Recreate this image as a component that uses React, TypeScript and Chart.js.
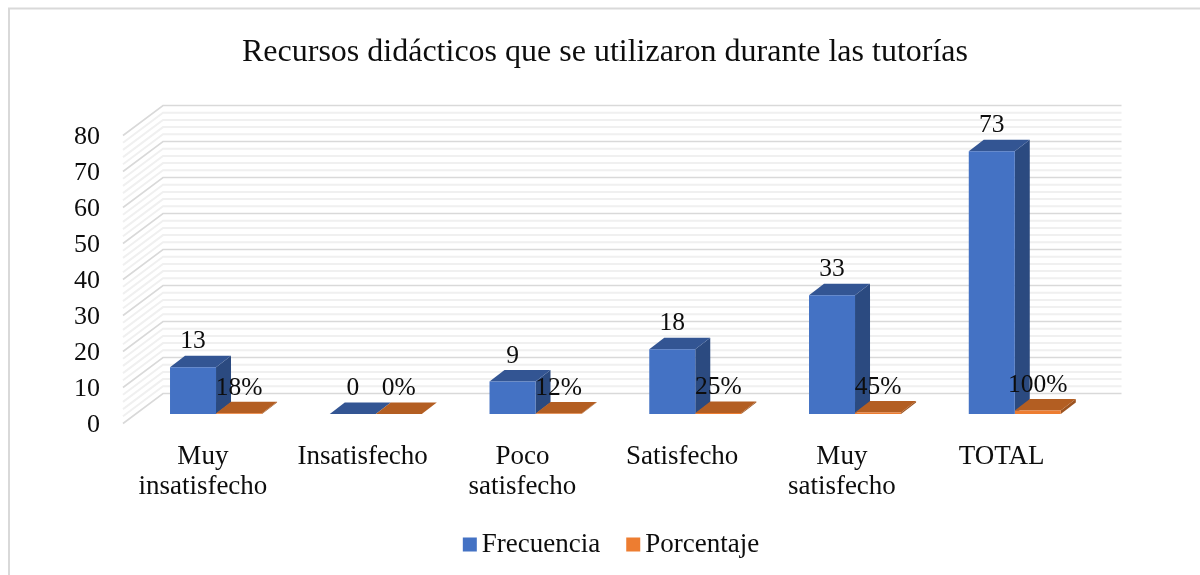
import React, { useEffect, useRef } from "react";
import { Chart, registerables } from "chart.js";

Chart.register(...registerables);

const TITLE = "Recursos didácticos que se utilizaron durante las tutorías";
const categories = [["Muy", "insatisfecho"], "Insatisfecho", ["Poco", "satisfecho"], "Satisfecho", ["Muy", "satisfecho"], "TOTAL"];
const frecuencia = [13, 0, 9, 18, 33, 73];
const porcentaje = [0.18, 0, 0.12, 0.25, 0.45, 1];
const porcentajeLabels = ["18%", "0%", "12%", "25%", "45%", "100%"];

const SERIF = "'Liberation Serif', serif";
const FLOOR_X = 13.15;
const FLOOR_Y = -9.5;
const BAR_DX = 15;
const BAR_DY = -11.5;
const WALL_DX = 40;
const WALL_DY = -30;
const LEGEND_SHIFT = 6;

const faces = [
  { top: "#335593", side: "#2b4a80" },
  { top: "#b35e22", side: "#9c5320" },
];

const poly = (ctx: CanvasRenderingContext2D, pts: number[][], fill: string) => {
  ctx.beginPath();
  pts.forEach((p, i) => (i ? ctx.lineTo(p[0], p[1]) : ctx.moveTo(p[0], p[1])));
  ctx.closePath();
  ctx.fillStyle = fill;
  ctx.fill();
};

const threeD = {
  id: "threeD",
  afterLayout(chart: any) {
    chart.legend.left += LEGEND_SHIFT;
    chart.legend.right += LEGEND_SHIFT;
  },
  beforeDatasetsDraw(chart: any) {
    const { ctx, chartArea: a } = chart;
    const y = chart.scales.y;
    const right = a.right + WALL_DX;
    ctx.save();
    for (let v = 0; v <= 80; v += 2) {
      if (v === 0) continue;
      if (v % 10 === 0) continue;
      const py = y.getPixelForValue(v);
      ctx.strokeStyle = "#f0f0f0";
      ctx.lineWidth = 2;
      ctx.beginPath();
      ctx.moveTo(a.left, py);
      ctx.lineTo(a.left + WALL_DX, py + WALL_DY);
      ctx.lineTo(right, py + WALL_DY);
      ctx.stroke();
    }
    for (let v = 0; v <= 80; v += 10) {
      const py = y.getPixelForValue(v);
      ctx.strokeStyle = "#d9d9d9";
      ctx.lineWidth = 1.6;
      ctx.beginPath();
      ctx.moveTo(a.left, py);
      ctx.lineTo(a.left + WALL_DX, py + WALL_DY);
      ctx.lineTo(right, py + WALL_DY);
      ctx.stroke();
    }
    chart.data.datasets.forEach((_: any, d: number) => {
      chart.getDatasetMeta(d).data.forEach((b: any) => {
        const l = b.x - b.width / 2 + FLOOR_X;
        const r = b.x + b.width / 2 + FLOOR_X;
        const t = b.y + FLOOR_Y;
        const base = b.base + FLOOR_Y;
        if (base - t > 0) {
          poly(ctx, [[r, t], [r + BAR_DX, t + BAR_DY], [r + BAR_DX, base + BAR_DY], [r, base]], faces[d].side);
        }
        poly(ctx, [[l, t], [l + BAR_DX, t + BAR_DY], [r + BAR_DX, t + BAR_DY], [r, t]], faces[d].top);
      });
    });
    ctx.restore();
    ctx.save();
    ctx.translate(FLOOR_X, FLOOR_Y);
  },
  afterDatasetsDraw(chart: any) {
    const { ctx } = chart;
    ctx.restore();
    ctx.save();
    ctx.font = `25.5px ${SERIF}`;
    ctx.fillStyle = "#0d0d0d";
    ctx.textAlign = "center";
    ctx.textBaseline = "middle";
    chart.getDatasetMeta(0).data.forEach((b: any, i: number) => {
      ctx.fillText(String(frecuencia[i]), b.x + FLOOR_X, b.y + FLOOR_Y + BAR_DY - 14);
    });
    chart.getDatasetMeta(1).data.forEach((b: any, i: number) => {
      ctx.fillText(porcentajeLabels[i], b.x + FLOOR_X, b.y + FLOOR_Y + BAR_DY - 14);
    });
    ctx.restore();
  },
  afterDraw(chart: any) {
    const { ctx } = chart;
    ctx.save();
    ctx.strokeStyle = "#d9d9d9";
    ctx.lineWidth = 2;
    ctx.strokeRect(9, 8.5, 1400, 1400);
    const legend = chart.legend;
    (legend.legendHitBoxes || []).forEach((h: any, i: number) => {
      ctx.fillStyle = i === 0 ? "#4472c4" : "#ed7d31";
      ctx.fillRect(h.left, h.top + h.height / 2 - 7, 14, 14);
    });
    ctx.restore();
  },
};

export default function App() {
  const ref = useRef<HTMLCanvasElement>(null);
  useEffect(() => {
    document.body.style.margin = "0";
    const chart = new Chart(ref.current!, {
      type: "bar",
      data: {
        labels: categories as any,
        datasets: [
          { label: "Frecuencia", data: frecuencia, backgroundColor: "#4472c4", categoryPercentage: 0.576, barPercentage: 1 },
          { label: "Porcentaje", data: porcentaje, backgroundColor: "#ed7d31", categoryPercentage: 0.576, barPercentage: 1 },
        ],
      },
      options: {
        animation: false,
        responsive: false,
        layout: { padding: { left: 10, right: 0, top: 0, bottom: 7 } },
        plugins: {
          tooltip: { enabled: false },
          title: {
            display: true,
            text: TITLE,
            color: "#0d0d0d",
            font: { family: SERIF, size: 32, weight: "normal", lineHeight: 1.2 },
            padding: { top: 33, bottom: 64.1 },
          },
          legend: {
            position: "bottom",
            labels: {
              color: "#0d0d0d",
              font: { family: SERIF, size: 27 },
              boxWidth: 5.5,
              boxHeight: 14,
              padding: 26,
              generateLabels: (c: any) =>
                c.data.datasets.map((d: any, i: number) => ({
                  text: d.label,
                  fillStyle: "rgba(0,0,0,0)",
                  strokeStyle: "rgba(0,0,0,0)",
                  lineWidth: 0,
                  datasetIndex: i,
                  fontColor: "#0d0d0d",
                })),
            },
          },
        },
        scales: {
          x: {
            grid: { display: false },
            border: { display: false },
            ticks: {
              color: "#0d0d0d",
              font: { family: SERIF, size: 27, lineHeight: 30 / 27 },
              padding: 10,
              maxRotation: 0,
              minRotation: 0,
              autoSkip: false,
            },
            afterFit: (s: any) => {
              s.height = 81.5;
            },
          },
          y: {
            min: 0,
            max: 80,
            grid: { display: false },
            border: { display: false },
            ticks: {
              stepSize: 10,
              color: "#0d0d0d",
              font: { family: SERIF, size: 26 },
              padding: 15,
              labelOffset: 2,
            },
            afterFit: (s: any) => {
              s.width = 113;
            },
          },
          pad: {
            position: "right",
            display: true,
            grid: { display: false },
            border: { display: false },
            ticks: { display: false },
            afterFit: (s: any) => {
              s.width = 118.5;
            },
          },
        },
      } as any,
      plugins: [threeD],
    });
    return () => chart.destroy();
  }, []);
  return <canvas ref={ref} width={1200} height={575} style={{ display: "block" }} />;
}
